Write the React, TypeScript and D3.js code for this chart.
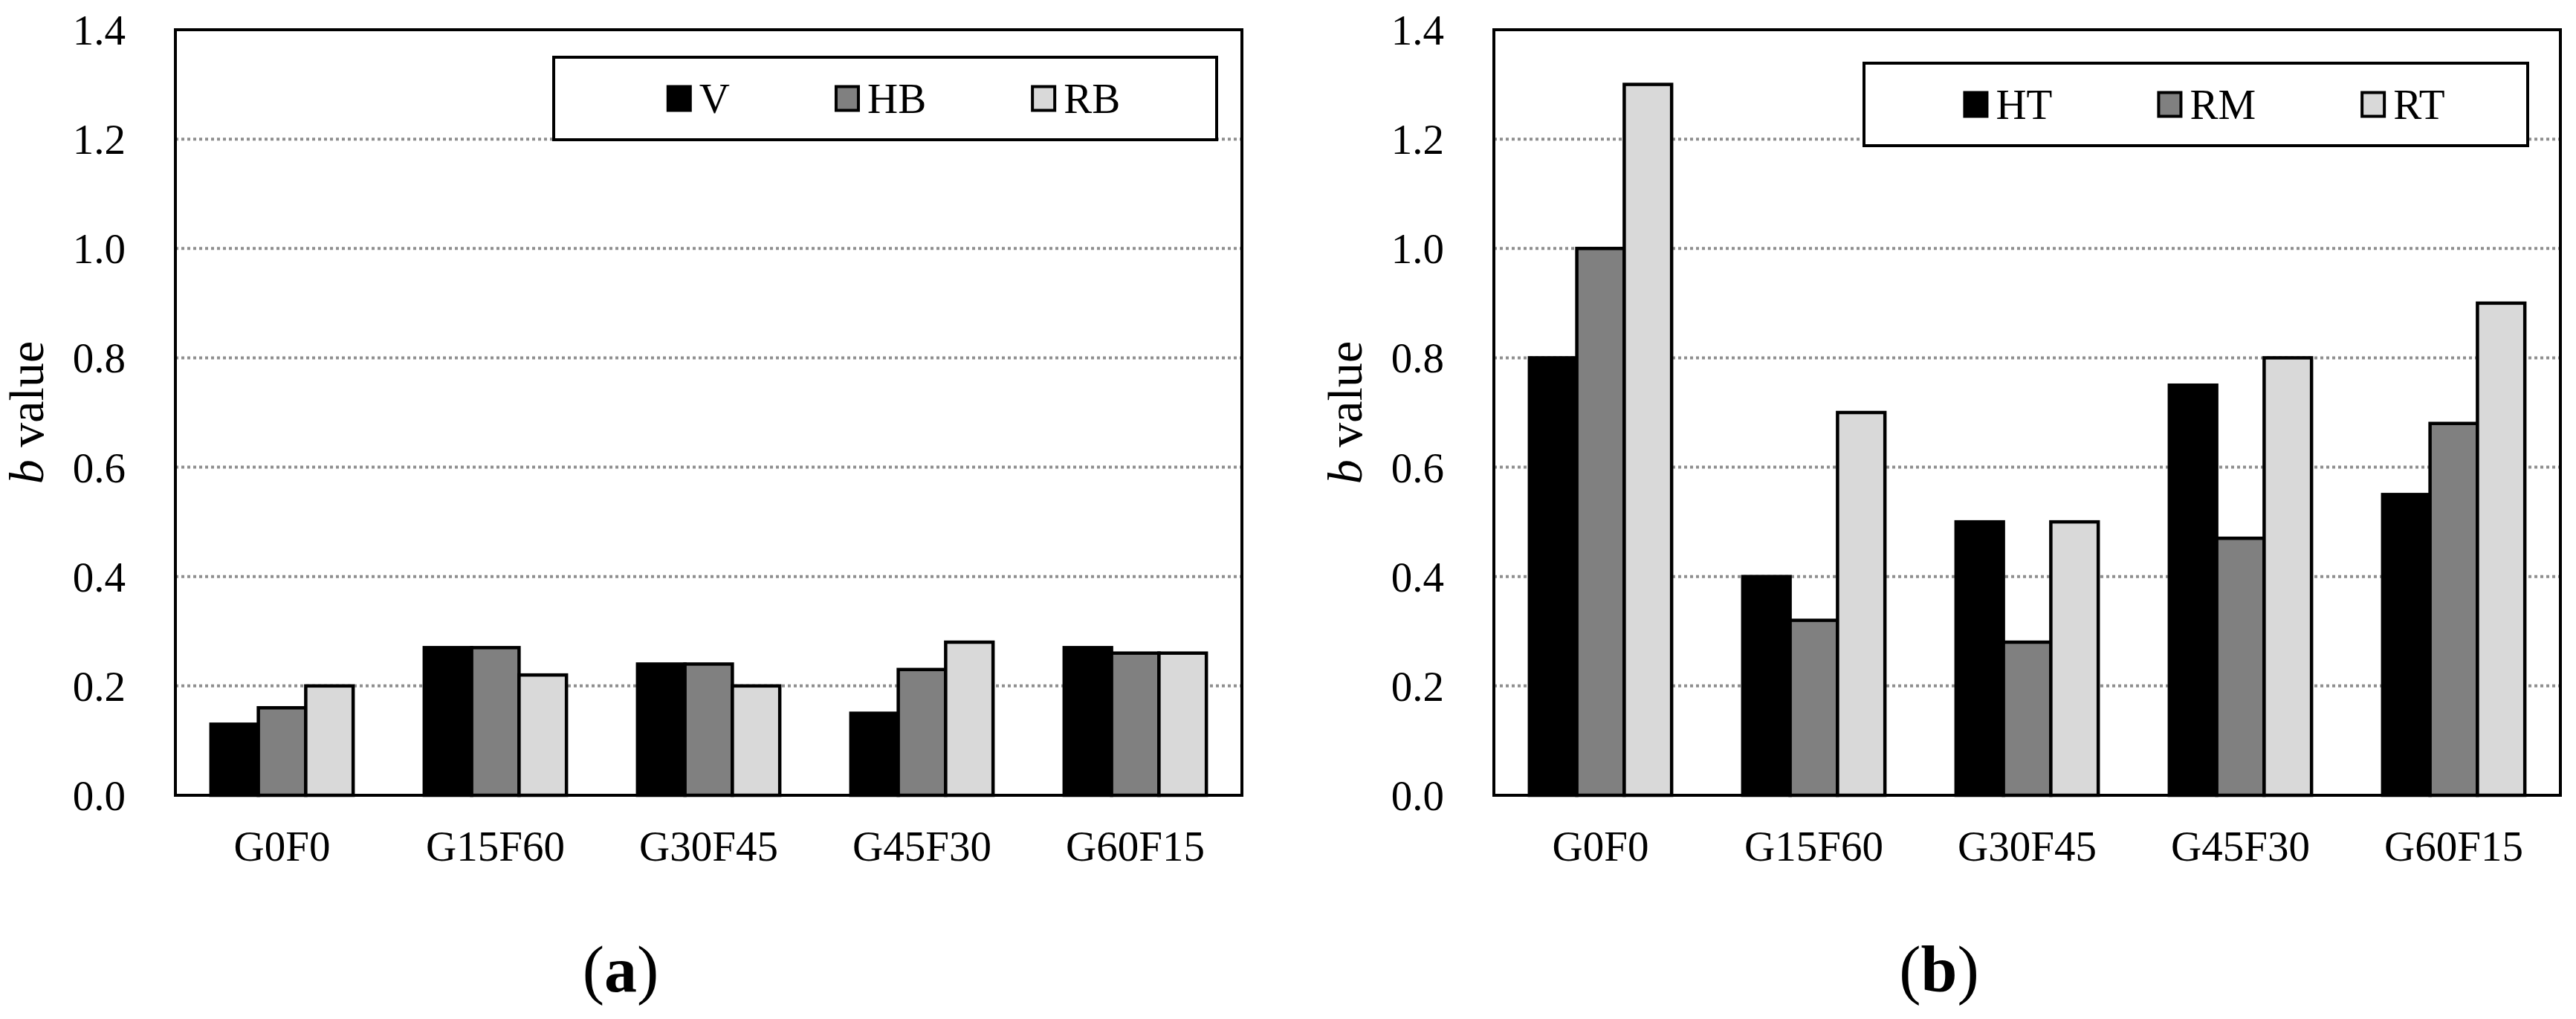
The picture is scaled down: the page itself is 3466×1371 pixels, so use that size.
import * as d3 from 'd3';
import { useEffect, useRef } from 'react';

const categories = ['G0F0', 'G15F60', 'G30F45', 'G45F30', 'G60F15'];
const yTicks = [0, 0.2, 0.4, 0.6, 0.8, 1.0, 1.2, 1.4];

const seriesA = ['V', 'HB', 'RB'];
const valuesV = [0.13, 0.27, 0.24, 0.15, 0.27];
const valuesHB = [0.16, 0.27, 0.24, 0.23, 0.26];
const valuesRB = [0.2, 0.22, 0.2, 0.28, 0.26];

const seriesB = ['HT', 'RM', 'RT'];
const valuesHT = [0.8, 0.4, 0.5, 0.75, 0.55];
const valuesRM = [1.0, 0.32, 0.28, 0.47, 0.68];
const valuesRT = [1.3, 0.7, 0.5, 0.8, 0.9];

const fills = ['#000000', '#808080', '#d9d9d9'];

const WIDTH = 3466;
const HEIGHT = 1371;
const FONT = '"Liberation Serif", "Times New Roman", serif';

type Panel = {
  left: number;
  series: string[];
  values: number[][];
  legend: { left: number; right: number; top: number; bottom: number };
  tag: string;
};

const panels: Panel[] = [
  {
    left: 236,
    series: seriesA,
    values: [valuesV, valuesHB, valuesRB],
    legend: { left: 745, right: 1637, top: 77, bottom: 188 },
    tag: 'a',
  },
  {
    left: 2010,
    series: seriesB,
    values: [valuesHT, valuesRM, valuesRT],
    legend: { left: 2508, right: 3401, top: 85, bottom: 196 },
    tag: 'b',
  },
];

export default function App() {
  const svgRef = useRef<SVGSVGElement>(null);

  useEffect(() => {
    const svgElement = svgRef.current;
    if (!svgElement) return;
    document.body.style.margin = '0';

    const svg = d3.select(svgElement);
    svg.selectAll('*').remove();
    svg.attr('width', WIDTH).attr('height', HEIGHT).style('font-family', FONT);

    const plotW = 1435;
    const top = 40;
    const bottom = 1070;

    const y = d3.scaleLinear().domain([0, 1.4]).range([bottom, top]);

    panels.forEach((p) => {
      const g = svg.append('g');
      const right = p.left + plotW;

      // gridlines
      g.selectAll('line.grid')
        .data(yTicks.filter((t) => t > 0 && t < 1.4))
        .join('line')
        .attr('class', 'grid')
        .attr('x1', p.left)
        .attr('x2', right)
        .attr('y1', (d) => y(d))
        .attr('y2', (d) => y(d))
        .attr('stroke', '#8f8f8f')
        .attr('stroke-width', 4)
        .attr('stroke-dasharray', '4 4');

      const x0 = d3
        .scaleBand<string>()
        .domain(categories)
        .range([p.left, right])
        .paddingInner(1 / 3)
        .paddingOuter(1 / 6);
      const x1 = d3
        .scaleBand<string>()
        .domain(p.series)
        .range([0, x0.bandwidth()]);

      const rows = categories.flatMap((c, ci) =>
        p.series.map((s, si) => ({ c, s, si, v: p.values[si][ci] }))
      );

      g.selectAll('rect.bar')
        .data(rows)
        .join('rect')
        .attr('class', 'bar')
        .attr('x', (d) => (x0(d.c) as number) + (x1(d.s) as number))
        .attr('y', (d) => y(d.v))
        .attr('width', x1.bandwidth())
        .attr('height', (d) => y(0) - y(d.v))
        .attr('fill', (d) => fills[d.si])
        .attr('stroke', '#000')
        .attr('stroke-width', 4.5);

      // frame
      g.append('rect')
        .attr('x', p.left)
        .attr('y', top)
        .attr('width', plotW)
        .attr('height', bottom - top)
        .attr('fill', 'none')
        .attr('stroke', '#000')
        .attr('stroke-width', 4);

      // y tick labels
      g.selectAll('text.ytick')
        .data(yTicks)
        .join('text')
        .attr('class', 'ytick')
        .attr('x', p.left - 67)
        .attr('y', (d) => y(d))
        .attr('dy', '0.35em')
        .attr('text-anchor', 'end')
        .attr('font-size', 57)
        .text((d) => d.toFixed(1));

      // category labels
      g.selectAll('text.xtick')
        .data(categories)
        .join('text')
        .attr('class', 'xtick')
        .attr('x', (d) => (x0(d) as number) + x0.bandwidth() / 2)
        .attr('y', 1158)
        .attr('text-anchor', 'middle')
        .attr('font-size', 57)
        .text((d) => d);

      // y axis title
      const yt = g
        .append('text')
        .attr('transform', `translate(${p.left - 178},${(top + bottom) / 2}) rotate(-90)`)
        .attr('text-anchor', 'middle')
        .attr('font-size', 66);
      yt.append('tspan').attr('font-style', 'italic').text('b');
      yt.append('tspan').text(' value');

      // legend
      const L = p.legend;
      g.append('rect')
        .attr('x', L.left)
        .attr('y', L.top)
        .attr('width', L.right - L.left)
        .attr('height', L.bottom - L.top)
        .attr('fill', '#fff')
        .attr('stroke', '#000')
        .attr('stroke-width', 4);

      const cy = (L.top + L.bottom) / 2;
      const sw = 30;
      const textGap = 10;
      const items = g.selectAll('g.item').data(p.series).join('g').attr('class', 'item');
      items
        .append('rect')
        .attr('width', sw)
        .attr('height', 32)
        .attr('y', cy - 16)
        .attr('fill', (_d, i) => fills[i])
        .attr('stroke', '#000')
        .attr('stroke-width', 4);
      const labels = items
        .append('text')
        .attr('x', sw + 2 + textGap)
        .attr('y', cy)
        .attr('dy', '0.35em')
        .attr('font-size', 57)
        .text((d) => d);

      const widths = labels.nodes().map((n) => (n as SVGTextElement).getComputedTextLength());
      const gap = 143;
      const itemW = widths.map((w) => sw + 2 + textGap + w);
      const total = d3.sum(itemW) + gap * (itemW.length - 1);
      let cx = L.left + (L.right - L.left - total) / 2 + 12;
      items.each(function (_d, i) {
        d3.select(this).attr('transform', `translate(${cx},0)`);
        cx += itemW[i] + gap;
      });

      // panel tag
      const tag = g
        .append('text')
        .attr('x', p.left + 599)
        .attr('y', 1334)
        .attr('text-anchor', 'middle')
        .attr('font-size', 88);
      tag.append('tspan').text('(');
      tag.append('tspan').attr('font-weight', 'bold').text(p.tag);
      tag.append('tspan').text(')');
    });
  }, []);

  return <svg ref={svgRef} style={{ display: 'block', background: '#fff' }} />;
}
